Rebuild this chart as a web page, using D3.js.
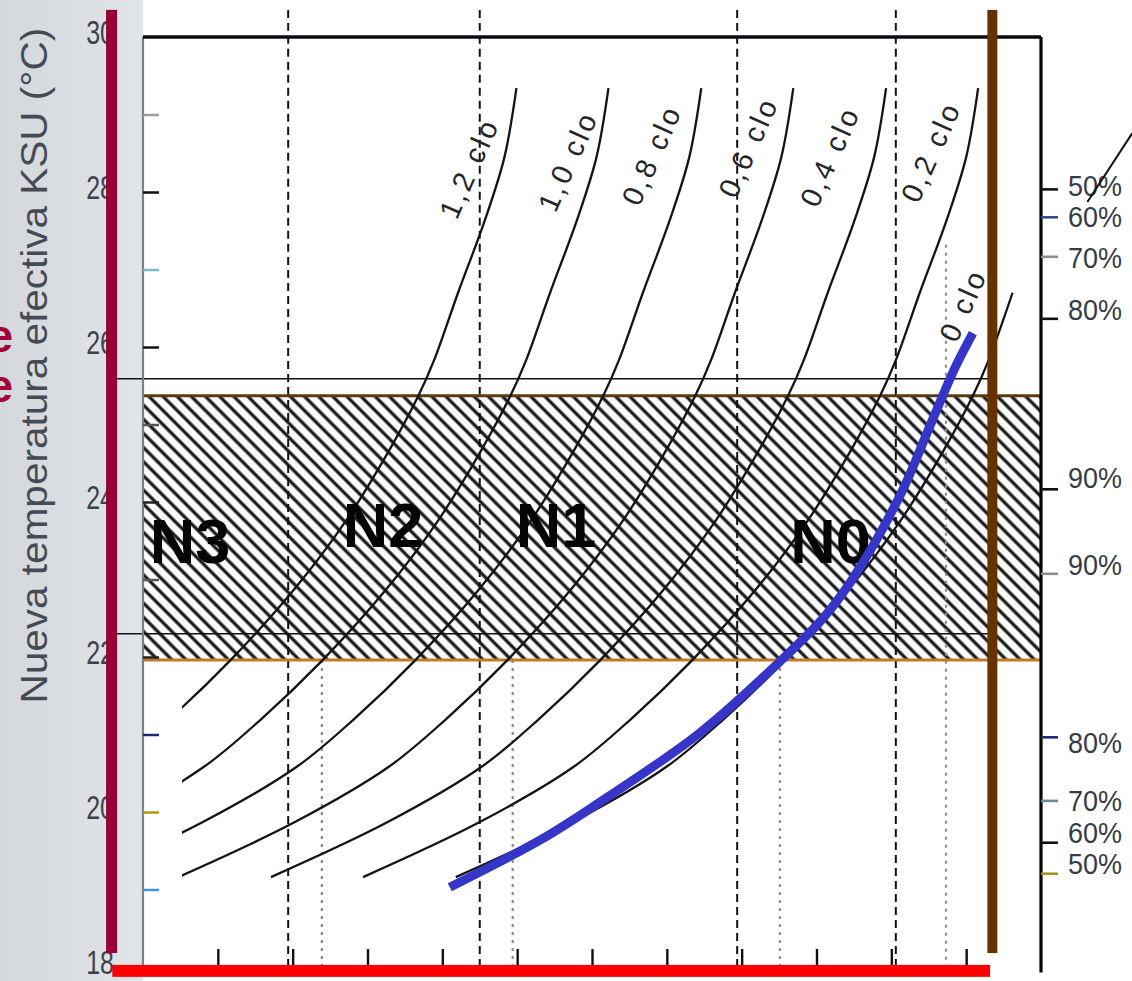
<!DOCTYPE html>
<html>
<head>
<meta charset="utf-8">
<script src="https://cdn.jsdelivr.net/npm/d3@7"></script>
<style>
  html, body { margin: 0; padding: 0; background: #ffffff; }
  svg { display: block; font-family: "Liberation Sans", Arial, sans-serif; }
</style>
</head>
<body>
<svg id="chart" width="1132" height="981"></svg>
<script>
// ---------------- data ----------------
// New effective temperature KSU (°C) at which every clo curve is sampled
const etLevels = [29.34, 28.45, 27.64, 26.70, 25.83, 25.37, 24.65, 23.77, 22.86, 21.96, 21.19, 20.58, 19.87, 19.16];

// Horizontal position of each clothing-insulation curve at those levels
const clo12 = [4.99, 4.83, 4.57, 4.21, 3.89, 3.68, 3.28, 2.72, 2.01, 1.17, 0.34, -0.43, -1.68, -3.24];
const clo10 = [6.22, 6.06, 5.80, 5.44, 5.12, 4.91, 4.51, 3.95, 3.24, 2.40, 1.57, 0.81, -0.44, -2.00];
const clo08 = [7.46, 7.30, 7.04, 6.68, 6.36, 6.15, 5.75, 5.19, 4.48, 3.64, 2.81, 2.05, 0.80, -0.77];
const clo06 = [8.69, 8.53, 8.27, 7.91, 7.59, 7.38, 6.98, 6.42, 5.71, 4.87, 4.04, 3.28, 2.03, 0.47];
const clo04 = [9.93, 9.77, 9.51, 9.15, 8.83, 8.62, 8.22, 7.66, 6.95, 6.11, 5.28, 4.52, 3.27, 1.71];
const clo02 = [11.16, 11.00, 10.74, 10.38, 10.06, 9.85, 9.45, 8.89, 8.18, 7.34, 6.51, 5.75, 4.50, 2.94];
const clo00 = [null, null, null, 11.62, 11.30, 11.09, 10.69, 10.13, 9.42, 8.58, 7.75, 6.99, 5.74, 4.18];

const cloNames = ["1,2 clo", "1,0 clo", "0,8 clo", "0,6 clo", "0,4 clo", "0,2 clo", "0 clo"];
const cloLabelX = [4.36, 5.68, 6.80, 8.09, 9.18, 10.53, 10.96];
const cloLabelY = [28.31, 28.40, 28.48, 28.58, 28.46, 28.52, 26.54];

// Hand-drawn comfort trend (blue)
const trendX = [4.10, 5.31, 6.11, 7.44, 8.51, 9.07, 9.47, 10.12, 10.52, 10.85, 11.09];
const trendY = [19.03, 19.64, 20.13, 21.02, 21.94, 22.48, 22.99, 24.09, 24.99, 25.73, 26.18];

// Comfort band (hatched) and its reference lines
const bandLow = 21.96, bandHigh = 25.37;
const refLines = [25.59, 22.30];

// Zone names
const zoneNames = ["N3", "N2", "N1", "N0"];
const zoneX = [0.09, 2.67, 4.98, 8.65];
const zoneY = [23.21, 23.42, 23.42, 23.21];

// Axes
const yLabelTicks = [18, 20, 22, 24, 26, 28, 30];
const yMinorTicks = [19, 20, 21, 22, 23, 24, 25, 26, 27, 28, 29];
const xTicks = [1, 2, 3, 4, 5, 6, 7, 8, 9, 10, 11];
const dashedX = [1.94, 4.50, 7.94, 10.06];
const dottedX = [2.39, 4.94, 8.51, 10.73];
const dottedTop = [21.96, 21.96, 21.96, 27.32];

// Relative humidity marks on the right
const rhTicks = [28.04, 27.68, 27.17, 26.37, 24.17, 23.08, 20.97, 20.15, 19.61, 19.21];
const rhLabelAt = [28.09, 27.68, 27.16, 26.48, 24.32, 23.19, 20.90, 20.15, 19.74, 19.34];
const rhLabels = ["50%", "60%", "70%", "80%", "90%", "90%", "80%", "70%", "60%", "50%"];

// Margin letters (°C levels of their baselines)
const marginLetterY = [25.94, 25.29];

// ---------------- drawing ----------------
const svg = d3.select("#chart");
const x = d3.scaleLinear().domain([0, 12]).range([143, 1041]);
const y = d3.scaleLinear().domain([18, 30]).range([967, 37]);

const defs = svg.append("defs");
const strip = defs.append("linearGradient").attr("id", "strip").attr("x1", 0).attr("x2", 1).attr("y1", 0).attr("y2", 0);
strip.append("stop").attr("offset", "0%").attr("stop-color", "#d4d8dd");
strip.append("stop").attr("offset", "100%").attr("stop-color", "#e1e4e8");

const hatch = defs.append("pattern").attr("id", "hatch")
  .attr("patternUnits", "userSpaceOnUse").attr("width", 10).attr("height", 10)
  .attr("patternTransform", "rotate(-45)");
hatch.append("rect").attr("width", 10).attr("height", 10).attr("fill", "#fbfcfd");
hatch.append("line").attr("x1", 5).attr("y1", -1).attr("x2", 5).attr("y2", 11)
  .attr("stroke", "#161616").attr("stroke-width", 3.2);

defs.append("clipPath").attr("id", "curveClip").append("rect")
  .attr("x", x(0.52)).attr("y", 0).attr("width", x(12) - x(0.52)).attr("height", y(18));

// page background
svg.append("rect").attr("width", 1132).attr("height", 981).attr("fill", "#ffffff");
svg.append("rect").attr("x", 0).attr("y", 0).attr("width", x(0)).attr("height", 981).attr("fill", "url(#strip)");

// hatched comfort band
svg.append("rect")
  .attr("x", x(0)).attr("y", y(bandHigh))
  .attr("width", x(12) - x(0)).attr("height", y(bandLow) - y(bandHigh))
  .attr("fill", "url(#hatch)");

// vertical guides
svg.append("g").selectAll("line").data(dashedX).join("line")
  .attr("x1", d => x(d)).attr("x2", d => x(d))
  .attr("y1", y(30.35)).attr("y2", y(18))
  .attr("stroke", "#111").attr("stroke-width", 2).attr("stroke-dasharray", "8,5");
svg.append("g").selectAll("line").data(dottedX).join("line")
  .attr("x1", d => x(d)).attr("x2", d => x(d))
  .attr("y1", (d, i) => y(dottedTop[i])).attr("y2", y(18))
  .attr("stroke", "#8a8d92").attr("stroke-width", 2.2).attr("stroke-dasharray", "3,5");

// reference lines across the band
svg.append("g").selectAll("line").data(refLines).join("line")
  .attr("x1", x(-0.41)).attr("x2", x(11.35))
  .attr("y1", d => y(d)).attr("y2", d => y(d))
  .attr("stroke", "#111").attr("stroke-width", 1.6);

// band borders
svg.append("line").attr("x1", x(0)).attr("x2", x(12)).attr("y1", y(bandHigh)).attr("y2", y(bandHigh))
  .attr("stroke", "#5a3c12").attr("stroke-width", 3);
svg.append("line").attr("x1", x(0)).attr("x2", x(12)).attr("y1", y(bandLow)).attr("y2", y(bandLow))
  .attr("stroke", "#c27a26").attr("stroke-width", 3);

// clo curves
const cloSeries = [clo12, clo10, clo08, clo06, clo04, clo02, clo00];
const cloLine = d3.line()
  .x(d => x(d[0])).y(d => y(d[1]))
  .curve(d3.curveCatmullRom.alpha(0.5));
svg.append("g").attr("clip-path", "url(#curveClip)")
  .selectAll("path").data(cloSeries).join("path")
  .attr("d", s => cloLine(s.map((v, i) => [v, etLevels[i]]).filter(p => p[0] !== null)))
  .attr("fill", "none").attr("stroke", "#141414").attr("stroke-width", 2.3);

svg.append("g").selectAll("text").data(cloNames).join("text")
  .attr("transform", (d, i) => `translate(${x(cloLabelX[i])},${y(cloLabelY[i])}) rotate(-66)`)
  .attr("text-anchor", "middle").attr("dominant-baseline", "central")
  .attr("font-size", 29).attr("letter-spacing", 3).attr("fill", "#26262a")
  .text(d => d);

// frame
svg.append("line").attr("x1", x(0)).attr("x2", x(0)).attr("y1", y(30)).attr("y2", y(18))
  .attr("stroke", "#7d8084").attr("stroke-width", 2.2);
svg.append("line").attr("x1", x(0)).attr("x2", x(12)).attr("y1", y(30)).attr("y2", y(30))
  .attr("stroke", "#0a0a14").attr("stroke-width", 3.5);
svg.append("line").attr("x1", x(12)).attr("x2", x(12)).attr("y1", y(30)).attr("y2", y(17.93))
  .attr("stroke", "#050505").attr("stroke-width", 3.2);

// left axis: labels every 2 °C, inner ticks every degree
const yLab = svg.append("g").attr("transform", `translate(${x(0)},0)`)
  .call(d3.axisLeft(y).tickValues(yLabelTicks).tickSize(0).tickPadding(29).tickFormat(d3.format("d")));
yLab.select(".domain").remove();
yLab.selectAll("text").attr("font-size", 25).attr("fill", "#3c424b")
  .attr("font-family", "\"Liberation Sans\", Arial, sans-serif")
  .attr("dy", "0.2em").attr("transform", "scale(1,1.35)");

const minorColors = ["#3a98e0", "#b39414", "#1b2870", "#222", "#555", "#222", "#555", "#111", "#7fb6c8", "#111", "#9a9ea4"];
const yMin = svg.append("g").attr("transform", `translate(${x(0)},0)`)
  .call(d3.axisRight(y).tickValues(yMinorTicks).tickSize(16).tickFormat(""));
yMin.select(".domain").remove();
yMin.selectAll(".tick line").attr("stroke", (d, i) => minorColors[i]).attr("stroke-width", 2.5);

// bottom ticks
const xAx = svg.append("g").attr("transform", `translate(0,${y(18)})`)
  .call(d3.axisTop(x).tickValues(xTicks).tickSize(18).tickFormat(""));
xAx.select(".domain").remove();
xAx.selectAll(".tick line").attr("stroke", "#111").attr("stroke-width", 2.4);

// right axis: relative humidity
const rhColors = ["#111", "#2c4f8c", "#8a8f94", "#111", "#111", "#8a8f94", "#1d2c78", "#6b8c94", "#111", "#a8921c"];
const rAx = svg.append("g").attr("transform", `translate(${x(12)},0)`)
  .call(d3.axisRight(y).tickValues(rhTicks).tickSize(17).tickFormat(""));
rAx.select(".domain").remove();
rAx.selectAll(".tick line").attr("stroke", (d, i) => rhColors[i]).attr("stroke-width", 2.6);

svg.append("g").selectAll("text").data(rhLabels).join("text")
  .attr("transform", (d, i) => `translate(${x(12) + 27},${y(rhLabelAt[i])}) scale(1,1.12)`)
  .attr("dominant-baseline", "central")
  .attr("font-size", 27).attr("fill", "#363c46")
  .text(d => d);

// axis title
svg.append("text")
  .attr("transform", `translate(47,${(y(30.12) + y(21.4)) / 2}) rotate(-90)`)
  .attr("text-anchor", "middle")
  .attr("font-size", 36).attr("fill", "#454b55")
  .attr("textLength", y(21.4) - y(30.12)).attr("lengthAdjust", "spacingAndGlyphs")
  .text("Nueva temperatura efectiva KSU (°C)");

// pointer line at the top right
svg.append("line").attr("x1", x(13.22)).attr("y1", y(28.76)).attr("x2", x(12.62)).attr("y2", y(27.87))
  .attr("stroke", "#111").attr("stroke-width", 2);

// zone names
svg.append("g").selectAll("text").data(zoneNames).join("text")
  .attr("x", (d, i) => x(zoneX[i])).attr("y", (d, i) => y(zoneY[i]))
  .attr("font-size", 63).attr("font-weight", "bold").attr("fill", "#050505")
  .text(d => d);

// blue trend curve
svg.append("path")
  .attr("d", d3.line().x(d => x(d[0])).y(d => y(d[1])).curve(d3.curveCatmullRom.alpha(0.5))(trendX.map((v, i) => [v, trendY[i]])))
  .attr("fill", "none").attr("stroke", "#3535c8").attr("stroke-width", 9).attr("stroke-linecap", "butt");

// marker bars
svg.append("rect").attr("x", x(-0.42) - 5.5).attr("y", y(30.35)).attr("width", 11).attr("height", y(18.18) - y(30.35))
  .attr("fill", "#990033");
svg.append("rect").attr("x", x(11.35) - 5).attr("y", y(30.35)).attr("width", 10).attr("height", y(18.18) - y(30.35))
  .attr("fill", "#663300");
svg.append("rect").attr("x", x(-0.41)).attr("y", y(17.95) - 6).attr("width", x(11.32) - x(-0.41)).attr("height", 12)
  .attr("fill", "#ff0000");

// crimson letters running off the left margin
svg.append("g").selectAll("text").data(marginLetterY).join("text")
  .attr("x", 13).attr("y", d => y(d)).attr("text-anchor", "end")
  .attr("font-size", 46).attr("font-weight", "bold").attr("fill", "#a3003c")
  .text("e");
</script>
</body>
</html>
